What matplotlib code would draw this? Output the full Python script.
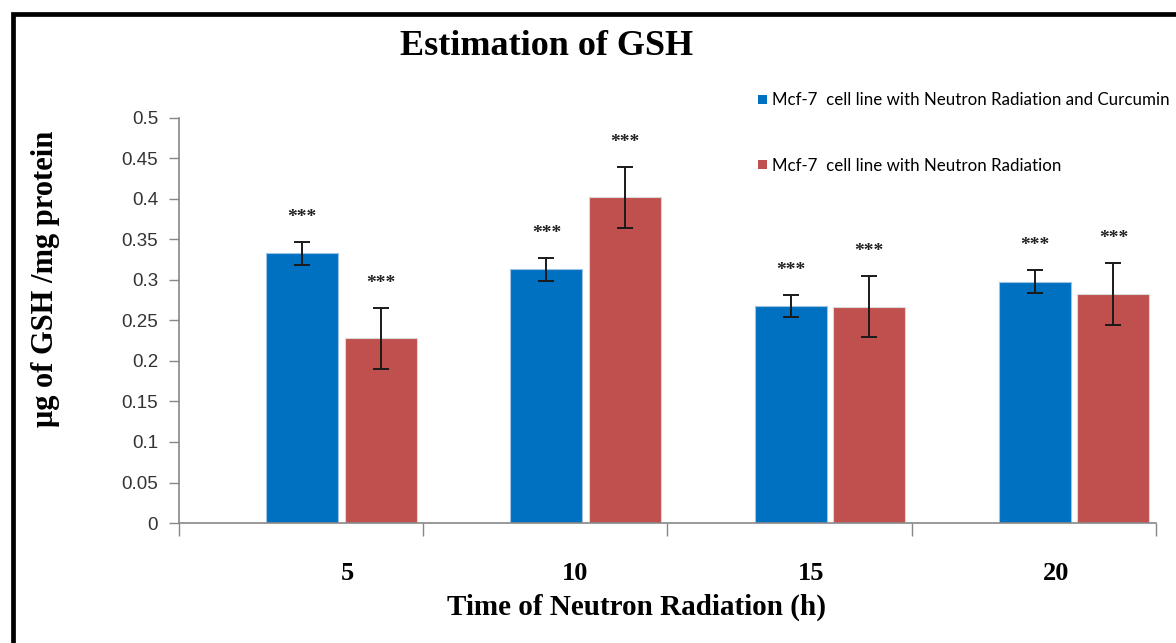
import numpy as np
import matplotlib.pyplot as plt
from matplotlib.lines import Line2D
from matplotlib.patches import Patch

hours = ["5", "10", "15", "20"]
with_curcumin = [0.333, 0.313, 0.268, 0.298]
with_curcumin_err = [0.014, 0.014, 0.014, 0.014]
radiation_only = [0.228, 0.402, 0.267, 0.283]
radiation_only_err = [0.038, 0.038, 0.038, 0.038]
y_ticks = [0, 0.05, 0.1, 0.15, 0.2, 0.25, 0.3, 0.35, 0.4, 0.45, 0.5]
y_tick_labels = ["0", "0.05", "0.1", "0.15", "0.2", "0.25", "0.3", "0.35", "0.4", "0.45", "0.5"]

blue = "#0070C0"
red = "#C0504D"
serif = "Liberation Serif"

fig = plt.figure(figsize=(11.76, 6.43), dpi=100)
ax = fig.add_axes([0.1522, 0.1866, 0.8308, 0.630])

x = np.arange(len(hours))
bw = 0.295
x_blue = x + 0.357
x_red = x + 0.678
label_pos = x + np.array([0.69, 0.62, 0.59, 0.59])

err_style = dict(ecolor="#1a1a1a", elinewidth=1.4, capsize=6, capthick=1.4)
ax.bar(x_blue, with_curcumin, width=bw, align="edge", color=blue,
       edgecolor="#9cc3e6", linewidth=0.8, zorder=2)
ax.bar(x_red, radiation_only, width=bw, align="edge", color=red,
       edgecolor="#d9d9d9", linewidth=0.8, zorder=2)
ax.errorbar(x_blue + bw / 2, with_curcumin, yerr=with_curcumin_err, fmt="none", zorder=3, **err_style)
ax.errorbar(x_red + bw / 2, radiation_only, yerr=radiation_only_err, fmt="none", zorder=3, **err_style)

# significance stars above each error bar
for xs, vals, errs in [(x_blue, with_curcumin, with_curcumin_err),
                       (x_red, radiation_only, radiation_only_err)]:
    for xi, v, e in zip(xs, vals, errs):
        ax.text(xi + bw / 2, v + e + 0.03, "***", ha="center", va="center",
                fontsize=14, color="#222222", family=serif, fontweight="bold")

ax.set_xlim(0, len(hours))
ax.set_ylim(0, 0.5)
ax.set_yticks(y_ticks)
ax.set_yticklabels(y_tick_labels, family="Liberation Sans", fontsize=13.5, color="#333333")
ax.set_xticks(label_pos)
ax.set_xticklabels(hours, family=serif, fontweight="bold", fontsize=19)
ax.set_xticks(np.arange(len(hours) + 1), minor=True)
ax.tick_params(axis="x", which="major", length=0, pad=28)
ax.tick_params(axis="x", which="minor", length=9, width=1, color="#888888", direction="out")
ax.tick_params(axis="y", length=7, width=1, color="#888888", direction="out", pad=8)

for side in ["top", "right"]:
    ax.spines[side].set_visible(False)
for side in ["left", "bottom"]:
    ax.spines[side].set_color("#888888")
    ax.spines[side].set_linewidth(1.2)

ax.set_xlabel("Time of Neutron Radiation (h)", family=serif, fontweight="bold",
              fontsize=21, labelpad=0)
ax.xaxis.set_label_coords(0.468, -0.175)
fig.text(0.039, 0.566, "μg of GSH /mg protein", rotation=90, ha="center", va="center",
         family=serif, fontweight="bold", fontsize=22)
fig.text(0.465, 0.928, "Estimation of GSH", ha="center", va="center",
         family=serif, fontweight="bold", fontsize=26)

handles = [Patch(facecolor=blue), Patch(facecolor=red)]
labels = ["Mcf-7  cell line with Neutron Radiation and Curcumin",
          "Mcf-7  cell line with Neutron Radiation"]
fig.legend(handles, labels, loc="upper left", bbox_to_anchor=(0.632, 0.88),
           frameon=False, handlelength=0.5, handleheight=0.5, handletextpad=0.3,
           labelspacing=2.9, prop={"family": "Lato", "size": 12.2})

# heavy frame along the left and top edges
fig.add_artist(Line2D([12.5 / 1176, 12.5 / 1176, 1], [0, 1 - 13.5 / 643, 1 - 13.5 / 643],
                      color="black", linewidth=3.4, solid_joinstyle="miter",
                      transform=fig.transFigure))

fig.savefig("out.png", dpi=100)
